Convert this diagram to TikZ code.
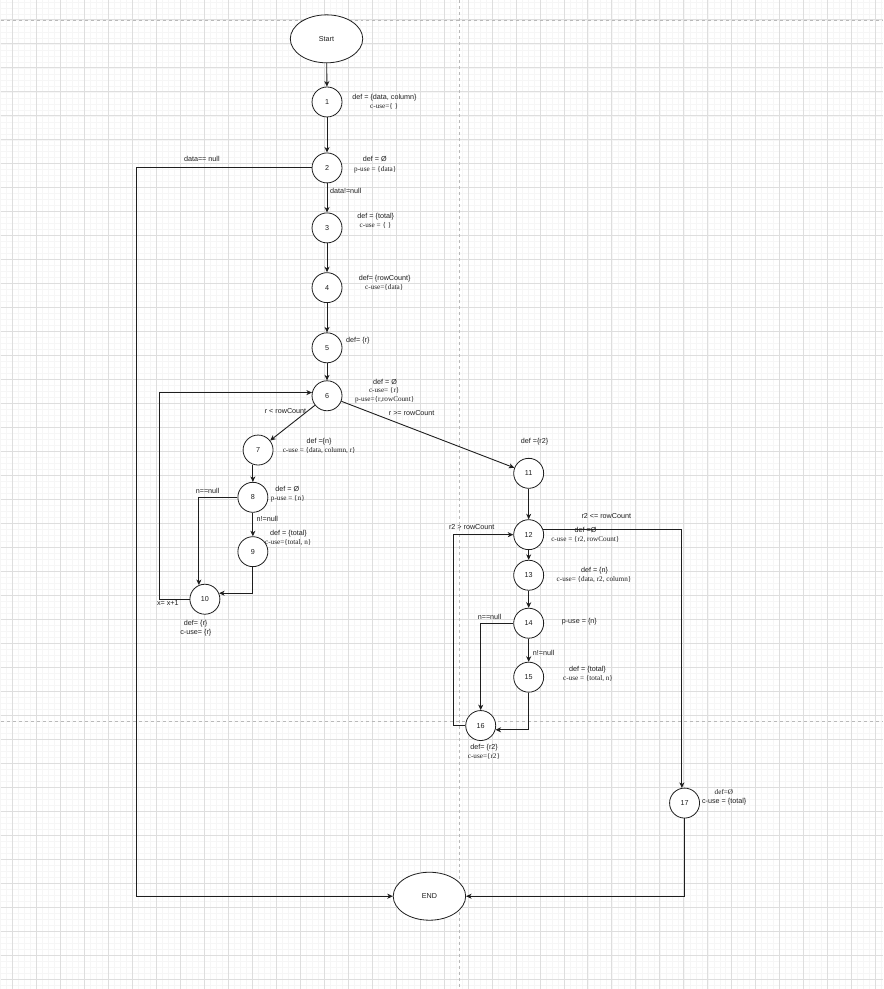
\documentclass[tikz,border=0pt]{standalone}
\usepackage{fontspec}
\setmainfont{Liberation Sans}
\newfontfamily\tms{Liberation Serif}
\usetikzlibrary{arrows.meta,shapes.geometric}
\definecolor{gridminor}{RGB}{246,246,246}
\definecolor{gridmajor}{RGB}{222,222,222}
\definecolor{pagebreak}{RGB}{185,185,185}
\definecolor{ink}{RGB}{30,30,30}
\begin{document}
\begin{tikzpicture}[x=1pt,y=-1pt,
  every node/.style={font=\fontsize{7.2}{9}\selectfont, inner sep=0pt, text=ink,
    text height=5.2pt, text depth=1.5pt},
  vtx/.style={circle, draw=ink, line width=0.8pt, minimum size=30pt, fill=white,
    text height=, text depth=},
  term/.style={ellipse, draw=ink, line width=0.8pt, minimum width=72.5pt,
    minimum height=48pt, fill=white, text height=, text depth=},
  flow/.style={draw=ink, line width=0.9pt, -{Stealth[length=5.5pt,width=5pt,inset=1.6pt]}},
  ann/.style={anchor=center},
  annS/.style={anchor=center, font=\tms\fontsize{7.2}{9}\selectfont},
  lbl/.style={anchor=center}]

% canvas and grid
\fill[white] (0,0) rectangle (883,989);
\foreach \i in {0,...,147} \draw[gridminor, line width=0.5pt] ({-0.5+6*\i},0) -- ({-0.5+6*\i},989);
\foreach \j in {0,...,164} \draw[gridminor, line width=0.5pt] (0,{1.5+6*\j}) -- (883,{1.5+6*\j});
\foreach \i in {0,...,36} \draw[gridmajor, line width=0.7pt] ({11.5+24*\i},0) -- ({11.5+24*\i},989);
\foreach \j in {0,...,40} \draw[gridmajor, line width=0.7pt] (0,{19.5+24*\j}) -- (883,{19.5+24*\j});
% page breaks
\draw[pagebreak, line width=0.7pt, dash pattern=on 3pt off 3pt] (0,20) -- (883,20);
\draw[pagebreak, line width=0.7pt, dash pattern=on 3pt off 3pt] (0,722) -- (883,722);
\draw[pagebreak, line width=0.7pt, dash pattern=on 3pt off 3pt] (459,0) -- (459,989);

% terminals and statements
\node[term] (start) at (326,38.5) {Start};
\node[term] (endn) at (429,896.5) {END};
\node[vtx] (n1) at (326.5,101.7) {1};
\node[vtx] (n2) at (326.5,167.7) {2};
\node[vtx] (n3) at (326.5,227.7) {3};
\node[vtx] (n4) at (326.5,287.5) {4};
\node[vtx] (n5) at (326.5,347.7) {5};
\node[vtx] (n6) at (326.5,395.7) {6};
\node[vtx] (n7) at (257.5,450) {7};
\node[vtx] (n8) at (252.3,497.3) {8};
\node[vtx] (n9) at (252.3,551.7) {9};
\node[vtx] (n10) at (204.3,599.3) {10};
\node[vtx] (n11) at (528.3,473.3) {11};
\node[vtx] (n12) at (528.3,534.7) {12};
\node[vtx] (n13) at (528.3,575.3) {13};
\node[vtx] (n14) at (528.3,623.3) {14};
\node[vtx] (n15) at (528.3,677.3) {15};
\node[vtx] (n16) at (480.3,725.7) {16};
\node[vtx] (n17) at (684.3,803.3) {17};

% bend points
\coordinate (k2) at (135.5,167.7);
\coordinate (k10) at (159.3,599.3);
\coordinate (k16) at (453.3,725.7);

% control flow
\draw[flow] (start) -- (n1);
\draw[flow] (n1) -- (n2);
\draw[flow] (n2) -- (n3);
\draw[flow] (n2.west) -- (k2) |- (endn.west);
\draw[flow] (n3) -- (n4);
\draw[flow] (n4) -- (n5);
\draw[flow] (n5) -- (n6);
\draw[flow] (n6) -- (n7);
\draw[flow] (n6) -- (n11);
\draw[flow] (n8.north |- n7.south) -- (n8);
\draw[flow] (n8) -- (n9);
\draw[flow] (n8.west) -| (n10.113.6);
\draw[flow] (n9.south) |- (n10.23.6);
\draw[flow] (n10.west) -- (k10) |- (n6.168.5);
\draw[flow] (n11) -- (n12);
\draw[flow] (n12) -- (n13);
\draw[flow] (n12.21) -| (n17.100);
\draw[flow] (n13) -- (n14);
\draw[flow] (n14) -- (n15);
\draw[flow] (n14.west) -| (n16.north);
\draw[flow] (n15.south) |- (n16.-16.7);
\draw[flow] (n16.west) -- (k16) |- (n12.west);
\draw[flow] (n17.south) |- (endn.east);

% branch conditions
\node[lbl] (c2a) at (201.2,159.3) {data== null};
\node[lbl] (c2b) at (345.2,191.7) {data!=null};
\node[lbl] (c6a) at (285,411.7) {r < rowCount};
\node[lbl] (c6b) at (411.2,413.7) {r >= rowCount};
\node[lbl] (c8a) at (207,492) {n==null};
\node[lbl] (c8b) at (266.8,520) {n!=null};
\node[lbl] (c10) at (167.2,604) {x= x+1};
\node[lbl] (c12a) at (606,516.7) {r2 <= rowCount};
\node[lbl] (c12b) at (471.3,527.7) {r2 > rowCount};
\node[lbl] (c14a) at (489.2,617.7) {n==null};
\node[lbl] (c14b) at (543.3,653.3) {n!=null};

% def / use sets
\node[ann] (d1) at (384,97) {def = \{data, column\}};
\node[annS] (u1) at (383.7,106.7) {c-use=\{ \}};
\node[ann] (d2) at (374.3,159.3) {def = Ø};
\node[annS] (u2) at (374.8,169) {p-use = \{data\}};
\node[ann] (d3) at (375.3,216.7) {def = \{total\}};
\node[annS] (u3) at (375,225.7) {c-use = \{ \}};
\node[ann] (d4) at (384.2,278.7) {def= \{rowCount\}};
\node[annS] (u4) at (383.8,288) {c-use=\{data\}};
\node[ann] (d5) at (357.3,341) {def= \{r\}};
\node[ann] (d6) at (384.5,382.7) {def = Ø};
\node[annS] (u6) at (383.7,390.7) {c-use= \{r\}};
\node[annS] (p6) at (384.2,399.3) {p-use=\{r,rowCount\}};
\node[ann] (d7) at (318.5,441.7) {def =\{n\}};
\node[annS] (u7) at (318.7,451) {c-use = \{data, column, r\}};
\node[ann] (d8) at (286.7,490) {def = Ø};
\node[annS] (u8) at (287.3,499) {p-use = \{n\}};
\node[ann] (d9) at (288,533.3) {def = \{total\}};
\node[annS] (u9) at (287.7,543) {c-use=\{total, n\}};
\node[ann] (d10) at (195,624) {def= \{r\}};
\node[ann] (u10) at (195.2,632.7) {c-use= \{r\}};
\node[ann] (d11) at (534.2,442) {def =\{r2\}};
\node[ann] (d12) at (585.3,530.7) {def =Ø};
\node[annS] (u12) at (585,540) {c-use = \{r2, rowCount\}};
\node[ann] (d13) at (594.2,571) {def = \{n\}};
\node[annS] (u13) at (593.7,580) {c-use= \{data, r2, column\}};
\node[ann] (p14) at (579,622) {p-use = \{n\}};
\node[ann] (d15) at (587.2,670) {def = \{total\}};
\node[annS] (u15) at (587.7,679) {c-use = \{total, n\}};
\node[ann] (d16) at (483.7,747.7) {def= \{r2\}};
\node[annS] (u16) at (483.5,757) {c-use=\{r2\}};
\node[annS] (d17) at (723.7,792.7) {def=Ø};
\node[ann] (u17) at (724,802.3) {c-use = \{total\}};
\end{tikzpicture}
\end{document}
